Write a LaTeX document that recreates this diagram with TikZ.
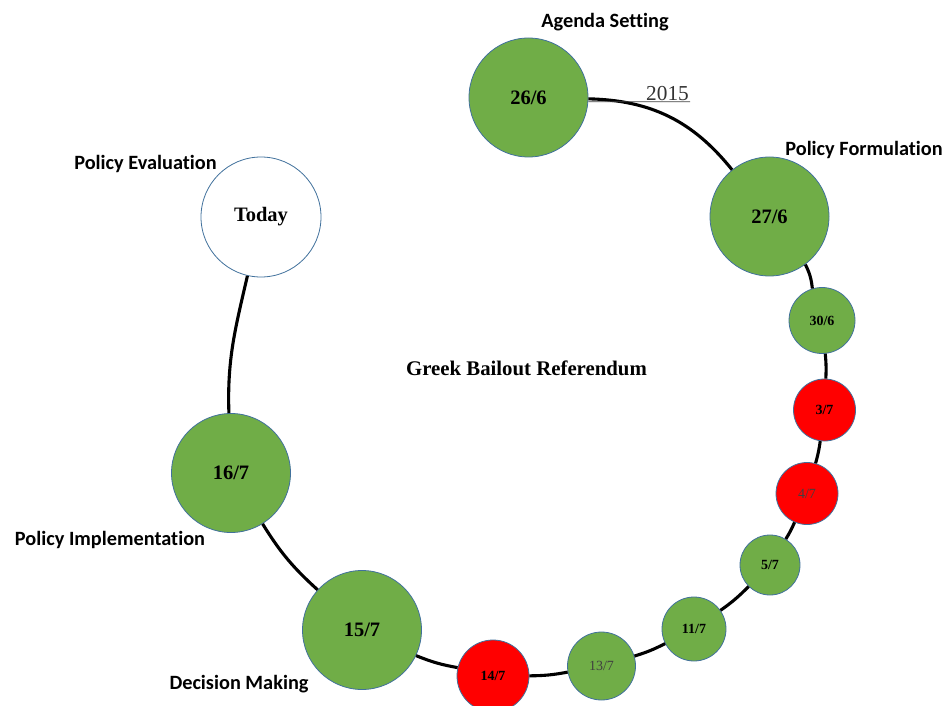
\documentclass[tikz,border=0pt]{standalone}
\usepackage{fontspec}
\setmainfont{Liberation Serif}
\newfontfamily\stagefont[Ligatures=NoCommon]{Carlito}
\definecolor{leafgreen}{HTML}{70AD47}
\definecolor{alarmred}{HTML}{FF0000}
\definecolor{rimblue}{HTML}{41719C}
\definecolor{softtext}{HTML}{404040}
\definecolor{yeartext}{HTML}{333333}

\begin{document}
\begin{tikzpicture}[x=1pt,y=1pt,
  datebox/.style={circle, draw=rimblue, line width=0.8pt, inner sep=0pt, text=black},
  bigdate/.style={datebox, minimum size=119pt, font=\fontsize{20.5}{24}\selectfont\bfseries},
  smalldate/.style={datebox, minimum size=#1, font=\fontsize{14}{16}\selectfont\bfseries},
  faintdate/.style={datebox, minimum size=#1, text=softtext, font=\fontsize{14}{16}\selectfont},
  stage/.style={font=\stagefont\bfseries\fontsize{20.3}{24}\selectfont, inner sep=0pt},
  link/.style={line width=3.1pt, black},
]
\useasboundingbox (0,0) rectangle (947,705);

% timeline circles
\node[bigdate, fill=leafgreen] (a) at (528.5,607.5) {26/6};
\node[bigdate, fill=leafgreen] (b) at (769.5,488.5) {27/6};
\node[smalldate=66pt, fill=leafgreen] (c) at (822,384.5) {30/6};
\node[smalldate=62pt, fill=alarmred] (d) at (824.5,295) {3/7};
\node[faintdate=62pt, fill=alarmred] (e) at (807,211.5) {4/7};
\node[smalldate=60pt, fill=leafgreen] (f) at (770,140) {5/7};
\node[smalldate=64pt, fill=leafgreen] (g) at (694,76) {11/7};
\node[faintdate=68pt, fill=leafgreen] (h) at (601.5,39) {13/7};
\node[smalldate=72pt, fill=alarmred] (i) at (493,29) {14/7};
\node[bigdate, fill=leafgreen] (j) at (362,75) {15/7};
\node[bigdate, fill=leafgreen] (k) at (231,232) {16/7};
\node[bigdate, minimum size=120pt, fill=white] (l) at (261,488) {Today};

% connecting arc
\draw[link] (a) to[bend left=25] (b);
\draw[link] (b) to[bend left=10] (c);
\draw[link] (c) to[bend left=4] (d);
\draw[link] (d) to[bend left=4] (e);
\draw[link] (e) to[bend left=4] (f);
\draw[link] (f) to[bend left=5] (g);
\draw[link] (g) to[bend left=5] (h);
\draw[link] (h) to[bend left=5] (i);
\draw[link] (i) to[bend left=6] (j);
\draw[link] (j) to[bend left=8] (k);
\draw[link] (k) to[out=92, in=-103] (l);

% year marker
\coordinate (yr) at (690,603.3);
\draw[softtext, line width=0.8pt] (a.-4) -- (yr);
\node[anchor=south east, inner sep=1pt, text=yeartext, font=\fontsize{21.3}{24}\selectfont] (year) at (yr) {2015};

% stage labels
\node[stage] (agenda) at (605,683) {Agenda Setting};
\node[stage] (formulation) at (864,555) {Policy Formulation};
\node[stage] (evaluation) at (145.5,541) {Policy Evaluation};
\node[stage] (implementation) at (110,165) {Policy Implementation};
\node[stage] (decision) at (239,21) {Decision Making};

% title
\node[font=\fontsize{20.8}{24}\selectfont\bfseries] (title) at (526.5,337) {Greek Bailout Referendum};
\end{tikzpicture}
\end{document}
